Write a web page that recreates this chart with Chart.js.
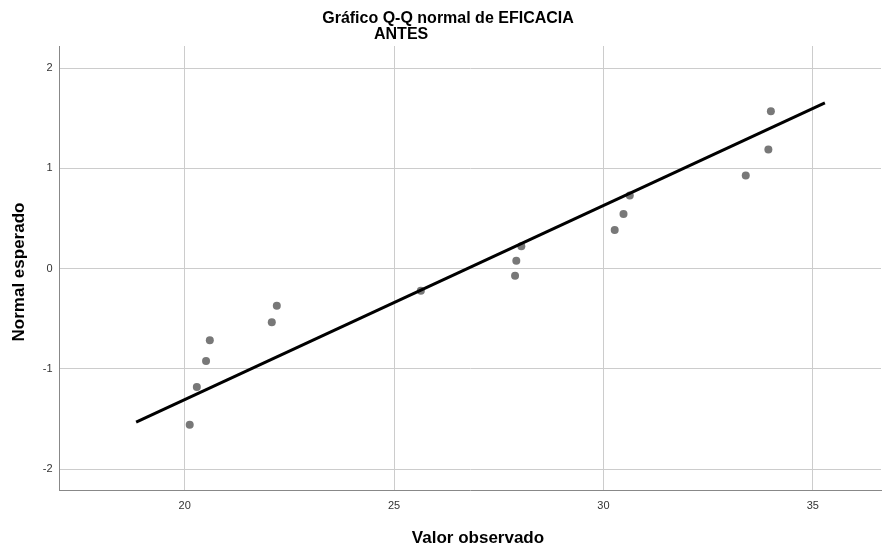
<!DOCTYPE html>
<html>
<head>
<meta charset="utf-8">
<script src="https://cdn.jsdelivr.net/npm/chart.js@4/dist/chart.umd.min.js"></script>
<style>
  html, body { margin: 0; padding: 0; background: #ffffff; }
  #wrap { position: relative; width: 885px; height: 550px; }
</style>
</head>
<body>
<div id="wrap"><canvas id="c" width="885" height="550"></canvas></div>
<script>
// ---- Data ----
const titleLines = ["Gráfico Q-Q normal de EFICACIA", "ANTES"];
const xAxisTitle = "Valor observado";
const yAxisTitle = "Normal esperado";

const observedValues = [20.12, 20.29, 20.51, 20.60, 22.08, 22.20, 25.64, 27.89, 27.92, 28.04, 30.27, 30.48, 30.63, 33.40, 33.94, 34.00];
const expectedNormal = [-1.558, -1.182, -0.922, -0.715, -0.535, -0.372, -0.222, -0.072, 0.078, 0.222, 0.385, 0.545, 0.728, 0.928, 1.188, 1.568];

const refLineX = [18.84, 35.29];
const refLineY = [-1.532, 1.652];

const xTicks = [20, 25, 30, 35];
const yTicks = [-2, -1, 0, 1, 2];

// ---- Build datasets ----
const points = observedValues.map((v, i) => ({ x: v, y: expectedNormal[i] }));
const linePts = refLineX.map((v, i) => ({ x: v, y: refLineY[i] }));

const FONT = "'Liberation Sans', Arial, sans-serif";

const textPlugin = {
  id: 'titlesText',
  afterDraw(chart) {
    const ctx = chart.ctx;
    ctx.save();
    ctx.fillStyle = '#000';
    ctx.font = "bold 16px " + FONT;
    ctx.textBaseline = 'alphabetic';
    ctx.textAlign = 'center';
    ctx.fillText(titleLines[0], 448, 23);
    ctx.textAlign = 'left';
    ctx.fillText(titleLines[1], 374, 39);

    ctx.font = "bold 17px " + FONT;
    ctx.textAlign = 'center';
    ctx.textBaseline = 'middle';
    ctx.fillText(xAxisTitle, 478, 538);

    ctx.translate(19, 272);
    ctx.rotate(-Math.PI / 2);
    ctx.fillText(yAxisTitle, 0, 0);
    ctx.restore();
  }
};

new Chart(document.getElementById('c'), {
  data: {
    datasets: [
      {
        type: 'line',
        data: linePts,
        borderColor: '#000000',
        borderWidth: 3,
        pointRadius: 0,
        fill: false,
        order: 0
      },
      {
        type: 'scatter',
        data: points,
        backgroundColor: '#787878',
        borderColor: '#787878',
        borderWidth: 0,
        pointRadius: 4,
        order: 1
      }
    ]
  },
  options: {
    responsive: false,
    animation: false,
    devicePixelRatio: 1,
    layout: { padding: { left: 0, right: 0, top: 46, bottom: 0 } },
    plugins: {
      legend: { display: false },
      tooltip: { enabled: false },
      title: { display: false }
    },
    scales: {
      x: {
        type: 'linear',
        min: 17.01,
        max: 36.63,
        afterBuildTicks(scale) { scale.ticks = xTicks.map(v => ({ value: v })); },
        afterFit(scale) { scale.height = 59.5; },
        grid: { color: '#cccccc', lineWidth: 1, drawTicks: false },
        border: { color: '#888888', width: 1 },
        ticks: {
          color: '#333333',
          font: { family: FONT, size: 11 },
          padding: 9,
          maxRotation: 0
        },
        title: { display: false, text: xAxisTitle }
      },
      y: {
        type: 'linear',
        min: -2.214,
        max: 2.22,
        afterBuildTicks(scale) { scale.ticks = yTicks.map(v => ({ value: v })); },
        afterFit(scale) { scale.width = 59.5; },
        grid: { color: '#cccccc', lineWidth: 1, drawTicks: false },
        border: { color: '#888888', width: 1 },
        ticks: {
          color: '#333333',
          font: { family: FONT, size: 11 },
          padding: 7
        },
        title: { display: false, text: yAxisTitle }
      }
    }
  },
  plugins: [textPlugin]
});
</script>
</body>
</html>
